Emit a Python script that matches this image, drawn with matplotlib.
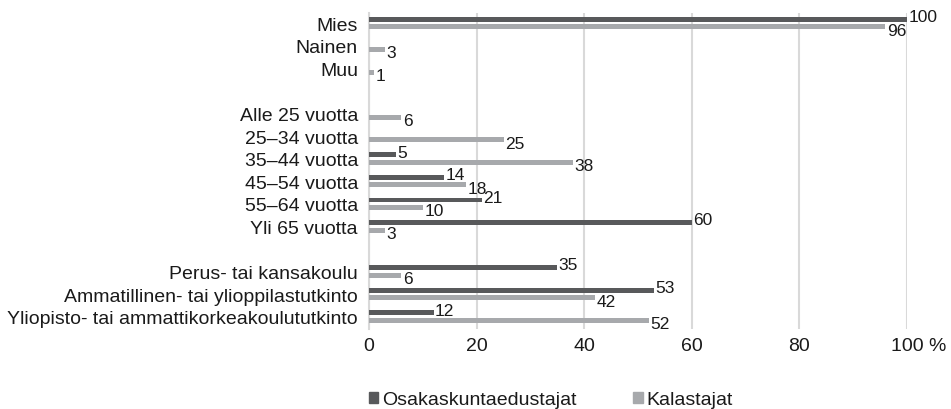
import matplotlib
matplotlib.use("Agg")
import matplotlib.pyplot as plt
from matplotlib.patches import Patch
from matplotlib.transforms import ScaledTranslation

plt.rcParams['font.family'] = ['Liberation Sans', 'DejaVu Sans']

categories = ["Mies", "Nainen", "Muu", "",
              "Alle 25 vuotta", "25–34 vuotta", "35–44 vuotta", "45–54 vuotta", "55–64 vuotta", "Yli 65 vuotta", "",
              "Perus- tai kansakoulu", "Ammatillinen- tai ylioppilastutkinto", "Yliopisto- tai ammattikorkeakoulututkinto"]
osakas = [100, None, None, None,
          None, None, 5, 14, 21, 60, None,
          35, 53, 12]
kalastajat = [96, 3, 1, None,
              6, 25, 38, 18, 10, 3, None,
              6, 42, 52]
series_names = ["Osakaskuntaedustajat", "Kalastajat"]
xticks = [0, 20, 40, 60, 80, 100]
xticklabels = ["0", "20", "40", "60", "80", "100 %"]

dark = "#58595b"
light = "#a7a9ac"
textc = "#1a1a1a"

fig = plt.figure(figsize=(9.51, 4.10), dpi=100)
ax = fig.add_axes([369/951, 1-330/410, (907-369)/951, (330-14)/410])

h = 0.22
off = 0.165
ys = list(range(len(categories)))
for y, a, b in zip(ys, osakas, kalastajat):
    if a is not None:
        ax.barh(y - off, a, height=h, color=dark, zorder=3)
        ax.annotate(str(a), (a, y - off), xytext=(1, 2), textcoords="offset points",
                    ha="left", va="center", fontsize=12.5, color=textc)
    if b is not None:
        ax.barh(y + off, b, height=h, color=light, zorder=3)
        ax.annotate(str(b), (b, y + off), xytext=(1, -2.5), textcoords="offset points",
                    ha="left", va="center", fontsize=12.5, color=textc)

ax.set_xlim(0, 100)
ax.set_ylim(13.55, -0.45)
ax.set_yticks(ys)
ax.set_yticklabels(categories, fontsize=14, color=textc)
ax.set_xticks(xticks)
ax.set_xticklabels(xticklabels, fontsize=14, color=textc)
ax.tick_params(axis='both', length=0)
ax.tick_params(axis='y', pad=8)
ax.tick_params(axis='x', pad=6)
# centre the number part of "100 %" on its tick, as in the reference
last = ax.get_xticklabels()[-1]
last.set_transform(last.get_transform() + ScaledTranslation(12/100, 0, fig.dpi_scale_trans))
ax.grid(axis='x', color="#d9d9d9", linewidth=1.5, zorder=0)
for s in ["top", "right", "bottom"]:
    ax.spines[s].set_visible(False)
ax.spines["left"].set_color("#d9d9d9")
ax.spines["left"].set_linewidth(1.5)

handles = [Patch(color=dark), Patch(color=light)]
fig.legend(handles, series_names, loc="center", bbox_to_anchor=(551/951, 1-401/410),
           ncol=2, frameon=False, fontsize=14, handlelength=0.5, handleheight=0.5,
           handletextpad=0.2, columnspacing=2.9, labelcolor=textc,
           borderpad=0, borderaxespad=0)

fig.savefig("out.png", dpi=100)
